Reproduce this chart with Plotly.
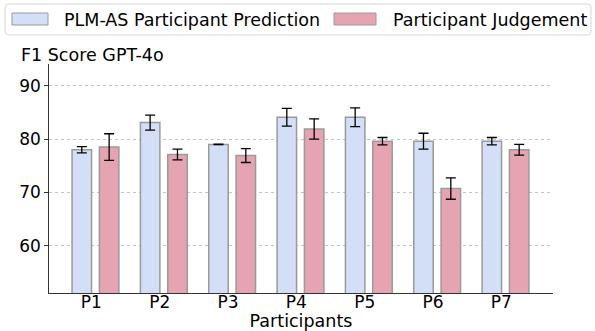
import plotly.graph_objects as go

participants = ["P1", "P2", "P3", "P4", "P5", "P6", "P7"]
pred_vals = [78.0, 83.1, 79.0, 84.1, 84.1, 79.6, 79.6]
pred_err = [0.6, 1.4, 0.05, 1.65, 1.75, 1.5, 0.7]
judge_vals = [78.5, 77.1, 76.9, 81.9, 79.6, 70.7, 78.0]
judge_err = [2.5, 1.0, 1.3, 1.9, 0.7, 2.0, 1.0]
series_names = ["PLM-AS Participant Prediction", "Participant Judgement"]
y_ticks = [60, 70, 80, 90]

W, H = 595, 331
ML, MR, MT, MB = 49, 42, 64, 38
PW, PH = W - ML - MR, H - MT - MB

BLUE = "#d2dff7"
PINK = "#e6a4b2"
EDGE = "#9a9a9a"
FONT = "DejaVu Sans"

xs = list(range(len(participants)))
off = 0.2
bw = 0.285

fig = go.Figure()
fig.add_trace(go.Bar(
    x=[i - off for i in xs], y=pred_vals, width=bw, name=series_names[0],
    marker=dict(color=BLUE, line=dict(color=EDGE, width=1.5)),
    error_y=dict(type="data", array=pred_err, color="black", thickness=1.3, width=5),
    showlegend=False,
))
fig.add_trace(go.Bar(
    x=[i + off for i in xs], y=judge_vals, width=bw, name=series_names[1],
    marker=dict(color=PINK, line=dict(color=EDGE, width=1.5)),
    error_y=dict(type="data", array=judge_err, color="black", thickness=1.3, width=5),
    showlegend=False,
))


def px_to_paper(px, py):
    return (px - ML) / PW, (H - MB - py) / PH


def rounded_rect(x0, y0, x1, y1, r):
    a = px_to_paper
    p = []
    p.append("M %f,%f" % a(x0 + r, y0))
    p.append("L %f,%f" % a(x1 - r, y0))
    p.append("Q %f,%f %f,%f" % (*a(x1, y0), *a(x1, y0 + r)))
    p.append("L %f,%f" % a(x1, y1 - r))
    p.append("Q %f,%f %f,%f" % (*a(x1, y1), *a(x1 - r, y1)))
    p.append("L %f,%f" % a(x0 + r, y1))
    p.append("Q %f,%f %f,%f" % (*a(x0, y1), *a(x0, y1 - r)))
    p.append("L %f,%f" % a(x0, y0 + r))
    p.append("Q %f,%f %f,%f" % (*a(x0, y0), *a(x0 + r, y0)))
    p.append("Z")
    return " ".join(p)


shapes = []
annotations = []
# legend box
shapes.append(dict(type="path", xref="paper", yref="paper",
                   path=rounded_rect(5, 4, 591, 35, 4),
                   line=dict(color="#d6d6d6", width=1), fillcolor="white", layer="above"))
# legend swatches + labels
for (sx0, sx1, tx, col, label) in [(12, 48, 62, BLUE, series_names[0]),
                                   (334, 376, 391, PINK, series_names[1])]:
    a0 = px_to_paper(sx0, 13)
    a1 = px_to_paper(sx1, 25)
    shapes.append(dict(type="rect", xref="paper", yref="paper",
                       x0=a0[0], y0=a1[1], x1=a1[0], y1=a0[1],
                       fillcolor=col, line=dict(color=EDGE, width=1), layer="above"))
    tp = px_to_paper(tx, 19.5)
    annotations.append(dict(text=label, xref="paper", yref="paper", x=tp[0], y=tp[1],
                            xanchor="left", yanchor="middle", showarrow=False,
                            font=dict(family=FONT, size=17.5, color="black")))

# y-axis title placed horizontally at top-left
tp = px_to_paper(19, 54.5)
annotations.append(dict(text="F1 Score GPT-4o", xref="paper", yref="paper", x=tp[0], y=tp[1],
                        xanchor="left", yanchor="middle", showarrow=False,
                        font=dict(family=FONT, size=17.5, color="black")))

fig.update_layout(
    width=W, height=H,
    margin=dict(l=ML, r=MR, t=MT, b=MB, pad=0),
    paper_bgcolor="white", plot_bgcolor="white",
    barmode="overlay",
    font=dict(family=FONT, size=17, color="black"),
    shapes=shapes, annotations=annotations,
    xaxis=dict(
        range=[-0.68, 6.695],
        tickvals=[i - 0.06 for i in xs], ticktext=participants,
        ticks="", showgrid=False, zeroline=False,
        showline=True, linecolor="#333333", linewidth=1.3,
        tickfont=dict(family=FONT, size=17),
        ticklabelstandoff=-7,
        title=dict(text="Participants", font=dict(family=FONT, size=17.5), standoff=0),
        automargin=False,
    ),
    yaxis=dict(
        range=[51.1, 94.1],
        tickvals=y_ticks,
        ticks="outside", ticklen=3.5, tickwidth=1, tickcolor="#333333",
        showgrid=True, gridcolor="#c4c4c4", griddash="dot", gridwidth=0.8,
        zeroline=False, showline=True, linecolor="#333333", linewidth=1.3,
        tickfont=dict(family=FONT, size=17),
        automargin=False,
    ),
)

fig.write_html(
    "out.html",
    config={"displayModeBar": False},
    post_script="document.body.style.margin='0';document.body.style.overflow='hidden';",
)
